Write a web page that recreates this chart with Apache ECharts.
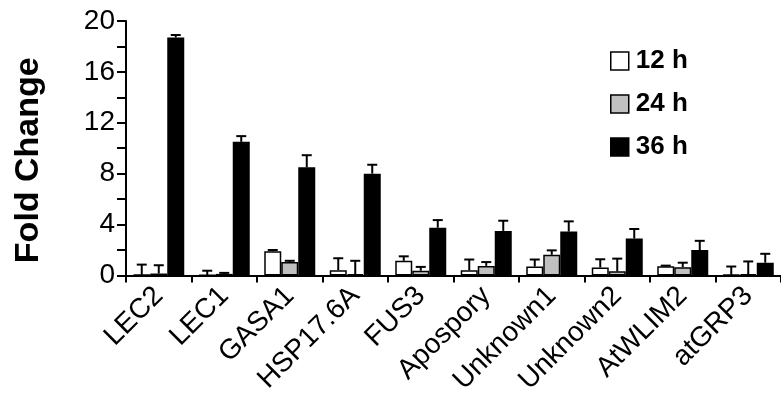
<!DOCTYPE html>
<html><head><meta charset="utf-8">
<script src="https://cdn.jsdelivr.net/npm/echarts@6/dist/echarts.min.js"></script>
<style>html,body{margin:0;padding:0;background:#fff}#c{width:781px;height:397px}</style>
</head><body><div id="c"></div>
<script>
var categories = ['LEC2','LEC1','GASA1','HSP17.6A','FUS3','Apospory','Unknown1','Unknown2','AtWLIM2','atGRP3'];
var seriesNames = ['12 h','24 h','36 h'];
var v12 = [0.05, 0.02, 1.9, 0.4, 1.15, 0.4, 0.7, 0.62, 0.72, 0.05];
var v24 = [0.15, 0.12, 1.05, 0.1, 0.37, 0.75, 1.62, 0.32, 0.65, 0.1];
var v36 = [18.7, 10.5, 8.5, 8.0, 3.75, 3.5, 3.45, 2.9, 2.0, 1.0];
var e12 = [0.8, 0.35, 0.1, 0.95, 0.35, 0.85, 0.55, 0.65, 0.05, 0.65];
var e24 = [0.65, 0.08, 0.1, 1.05, 0.3, 0.3, 0.35, 1.0, 0.35, 1.0];
var e36 = [0.2, 0.45, 0.95, 0.7, 0.6, 0.8, 0.8, 0.75, 0.72, 0.7];
var yTicks = [0, 4, 8, 12, 16, 20];

var values = [v12, v24, v36];
var errs = [e12, e24, e36];
var colors = ['#ffffff', '#c0c0c0', '#000000'];
var BW = 17;
var font = '"Liberation Sans", Arial, Helvetica, sans-serif';

var series = [];
values.forEach(function (vals, i) {
  series.push({
    name: seriesNames[i], type: 'bar', data: vals, barWidth: BW, barGap: '0%',
    itemStyle: { color: colors[i], borderColor: '#000', borderWidth: 1.5 },
    z: 2
  });
});
values.forEach(function (vals, i) {
  var data = vals.map(function (v, k) { return [k, v, v + errs[i][k]]; });
  series.push({
    type: 'custom', data: data, z: 3, silent: true,
    renderItem: function (params, api) {
      var k = api.value(0);
      var p0 = api.coord([k, api.value(1)]);
      var p1 = api.coord([k, api.value(2)]);
      var x = p0[0] + (i - 1) * BW;
      var style = { stroke: '#000', lineWidth: 2 };
      return { type: 'group', children: [
        { type: 'line', shape: { x1: x, y1: p0[1], x2: x, y2: p1[1] }, style: style },
        { type: 'line', shape: { x1: x - 5, y1: p1[1], x2: x + 5, y2: p1[1] }, style: style }
      ]};
    }
  });
});

var chart = echarts.init(document.getElementById('c'));
chart.setOption({
  animation: false,
  backgroundColor: '#fff',
  grid: { left: 126, top: 21, bottom: 120, right: -8, containLabel: false },
  legend: {
    data: seriesNames.map(function (n, i) {
      return { name: n, itemStyle: { color: colors[i], borderColor: '#000', borderWidth: 1.5 } };
    }),
    orient: 'vertical', left: 605, top: 43, icon: 'rect',
    itemWidth: 18, itemHeight: 18, itemGap: 17, selectedMode: false,
    textStyle: { fontFamily: font, fontWeight: 'bold', fontSize: 26, color: '#000', padding: [0, 0, 0, 2] }
  },
  xAxis: {
    type: 'category', data: categories,
    axisLine: { lineStyle: { color: '#000', width: 2 } },
    axisTick: { show: true, length: 7, lineStyle: { color: '#000', width: 2 } },
    axisLabel: { rotate: 45, fontFamily: font, fontSize: 28, color: '#000', interval: 0, margin: 16 }
  },
  yAxis: {
    type: 'value', min: 0, max: 20, interval: 2,
    name: 'Fold Change', nameLocation: 'middle', nameGap: 80, nameRotate: 90,
    nameTextStyle: { fontFamily: font, fontWeight: 'bold', fontSize: 34, color: '#000', padding: [0, 24, 0, 0] },
    splitLine: { show: false },
    axisLine: { show: true, lineStyle: { color: '#000', width: 2 } },
    axisTick: { show: true, length: 9, lineStyle: { color: '#000', width: 2 } },
    axisLabel: {
      fontFamily: font, fontSize: 28, color: '#000', margin: 11,
      formatter: function (v) { return yTicks.indexOf(v) >= 0 ? String(v) : ''; }
    }
  },
  series: series
});
</script></body></html>
